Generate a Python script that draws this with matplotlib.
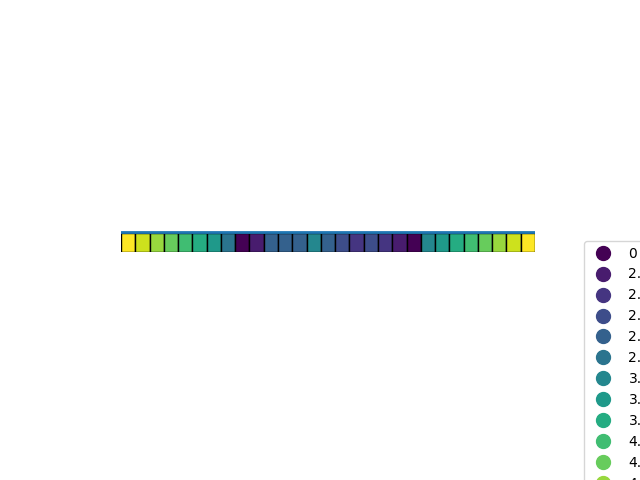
import matplotlib
matplotlib.use("Agg")
import matplotlib.pyplot as plt
from matplotlib.lines import Line2D
import numpy as np

# unique values (legend order) and the row of cell values
levels = [0, 2.05, 2.2, 2.4, 2.6, 2.85, 3.1, 3.4, 3.75, 4.1, 4.4, 4.75, 5.1, 5.5]
cell_values = [5.5, 5.1, 4.75, 4.4, 4.1, 3.75, 3.4, 2.85, 0, 2.05, 2.6, 2.6, 2.6, 3.1, 2.6,
               2.4, 2.2, 2.4, 2.2, 2.05, 0, 3.1, 3.4, 3.75, 4.1, 4.4, 4.75, 5.1, 5.5]
level_labels = [f"{v:g}" for v in levels]

cmap = plt.get_cmap("viridis")
n = len(levels)
level_colors = [cmap(i / (n - 1)) for i in range(n)]
cell_colors = [level_colors[levels.index(v)] for v in cell_values]

fig = plt.figure(figsize=(6.4, 4.8), dpi=100)
ax = fig.add_axes([121 / 640, (480 - 252) / 480, 414 / 640, 21 / 480])
x = np.arange(len(cell_values))
ax.bar(x, 1.0, width=1.0, bottom=0, color=cell_colors, edgecolor="black", linewidth=1.0)
ax.axhline(1.06, color="#1f77b4", lw=2.0, xmin=0, xmax=0.998)
ax.set_xlim(-0.5, len(cell_values) - 0.5)
ax.set_ylim(-0.02, 1.1)
ax.axis("off")

handles = [Line2D([0], [0], marker="o", linestyle="none", markersize=10,
                  markerfacecolor=c, markeredgecolor=c) for c in level_colors]
fig.legend(handles, level_labels, loc="upper left",
           bbox_to_anchor=(584 / 640, 1 - 241 / 480), borderaxespad=0)

fig.savefig("out.png", dpi=100)
